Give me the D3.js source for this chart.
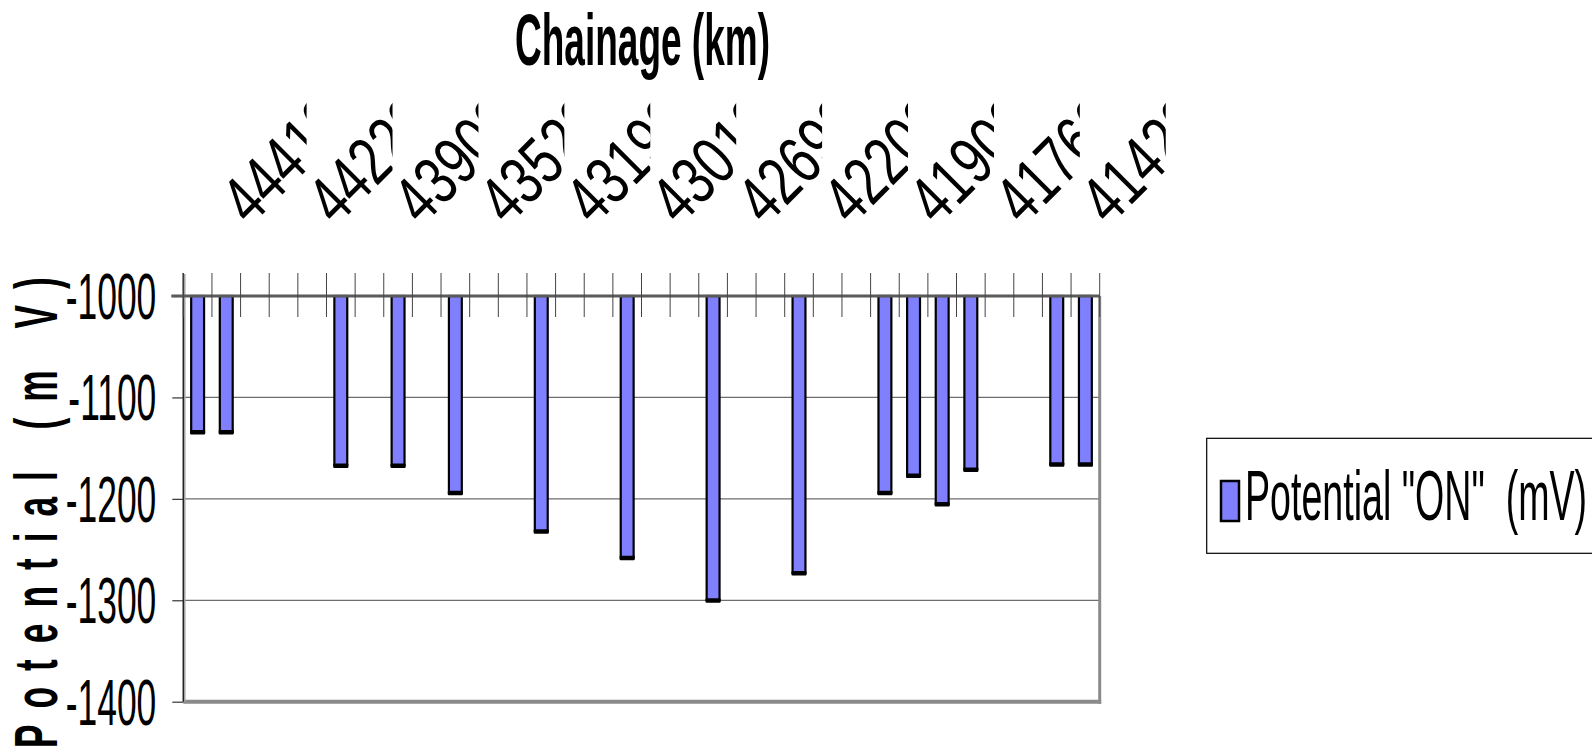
<!DOCTYPE html>
<html>
<head>
<meta charset="utf-8">
<script src="https://cdn.jsdelivr.net/npm/d3@7/dist/d3.min.js"></script>
<style>
  body { margin: 0; background: #fff; }
  text { font-family: "Liberation Sans", Arial, sans-serif; fill: #000; }
</style>
</head>
<body>
<svg id="chart" width="1592" height="749"></svg>
<script>
// one slot per chainage point, empty slots have no reading
var categories = d3.range(32);
var potentialOn = [-1134, -1134, null, null, null, -1167, null, -1167, null, -1194,
  null, null, -1232, null, null, -1258, null, null, -1300, null,
  null, -1273, null, null, -1194, -1177, -1205, -1171, null, null,
  -1166, -1166];
// only every third chainage gets a label
var labelIdx = [0, 3, 6, 9, 12, 15, 18, 21, 24, 27, 30];
var chainageLabels = ["44410", "44220", "43900", "43520", "43190", "43010",
  "42690", "42200", "41900", "41760", "41420"];
var yTicks = [-1000, -1100, -1200, -1300, -1400];
var seriesName = 'Potential "ON"  (mV)';

var svg = d3.select("#chart");
svg.append("rect").attr("width", 1592).attr("height", 749).attr("fill", "#fff");

var left = 183.3, right = 1099.7;

var x = d3.scaleBand()
  .domain(categories)
  .range([left, right])
  .paddingInner(0.55)
  .paddingOuter(0.275);

// tick positions sit on category boundaries
var xEdge = d3.scaleLinear().domain([0, categories.length]).range([left, right]);

var y = d3.scaleLinear().domain([-1000, -1400]).range([296, 701.7]);

// gridlines
svg.append("g")
  .selectAll("line")
  .data(yTicks.slice(1, -1))
  .join("line")
  .attr("x1", left).attr("x2", right)
  .attr("y1", d => y(d)).attr("y2", d => y(d))
  .attr("stroke", "#6e6e6e")
  .attr("stroke-width", 1.2);

// plot border right and bottom (grey)
svg.append("line")
  .attr("x1", right).attr("x2", right)
  .attr("y1", y(-1000)).attr("y2", y(-1400) + 2)
  .attr("stroke", "#8a8a8a").attr("stroke-width", 3);
svg.append("line")
  .attr("x1", left).attr("x2", right + 1.5)
  .attr("y1", y(-1400)).attr("y2", y(-1400))
  .attr("stroke", "#8a8a8a").attr("stroke-width", 4);

// value axis
var yAxis = d3.axisLeft(y)
  .tickValues(yTicks)
  .tickSizeInner(11)
  .tickSizeOuter(0)
  .tickFormat(d => String(d));

var gy = svg.append("g")
  .attr("transform", "translate(" + left + ",0)")
  .call(yAxis);
gy.select(".domain").remove();
gy.selectAll(".tick line").attr("stroke", "#333").attr("stroke-width", 1.2);
gy.selectAll(".tick text")
  .attr("x", null)
  .attr("dy", null)
  .attr("dominant-baseline", "central")
  .attr("font-size", 65)
  .attr("font-family", "Liberation Sans, Arial, sans-serif")
  .attr("transform", "translate(-27,0) scale(0.545,1)");

// axis line with a grey shadow
svg.append("line")
  .attr("x1", left + 1.5).attr("x2", left + 1.5)
  .attr("y1", 274).attr("y2", y(-1400))
  .attr("stroke", "#a8a8a8").attr("stroke-width", 1.5);
svg.append("line")
  .attr("x1", left).attr("x2", left)
  .attr("y1", 273).attr("y2", y(-1400))
  .attr("stroke", "#222").attr("stroke-width", 1.5);

// bars hanging from -1000
var bars = svg.append("g")
  .selectAll("g")
  .data(categories.filter(i => potentialOn[i] != null))
  .join("g");

bars.append("rect")
  .attr("x", i => x(i))
  .attr("y", y(-1000))
  .attr("width", x.bandwidth())
  .attr("height", i => y(potentialOn[i]) - y(-1000))
  .attr("fill", "#8080ff")
  .attr("stroke", "#000")
  .attr("stroke-width", 2.2);

bars.append("rect")
  .attr("x", i => x(i) - 1.1)
  .attr("y", i => y(potentialOn[i]) - 2)
  .attr("width", x.bandwidth() + 2.2)
  .attr("height", 4.5)
  .attr("rx", 1)
  .attr("fill", "#000");

// category axis line at -1000 with cross ticks
svg.append("line")
  .attr("x1", left - 12).attr("x2", right)
  .attr("y1", y(-1000)).attr("y2", y(-1000))
  .attr("stroke", "#5a5a5a").attr("stroke-width", 3);

svg.append("g")
  .selectAll("line")
  .data(d3.range(categories.length + 1))
  .join("line")
  .attr("x1", d => xEdge(d)).attr("x2", d => xEdge(d))
  .attr("y1", 273).attr("y2", 317)
  .attr("stroke", "#444")
  .attr("stroke-width", 1);

// rotated chainage labels, clipped to their slot
var defs = svg.append("defs");
labelIdx.forEach(function(ci, k) {
  var x0 = xEdge(ci);
  defs.append("clipPath").attr("id", "lab" + k)
    .append("rect")
    .attr("x", x0 + 37.4).attr("y", 0)
    .attr("width", xEdge(3) - xEdge(0)).attr("height", 262);

  svg.append("g")
    .attr("clip-path", "url(#lab" + k + ")")
    .append("text")
    .attr("transform", "translate(" + (x0 + 66.7) + ",227) rotate(-45) scale(0.75,1)")
    .attr("font-size", 68)
    .text(chainageLabels[k]);
});

// titles
svg.append("text")
  .attr("transform", "translate(642.5,65) scale(0.514,1)")
  .attr("text-anchor", "middle")
  .attr("font-size", 72)
  .attr("font-weight", "bold")
  .text("Chainage (km)");

svg.append("text")
  .attr("transform", "translate(57,748) rotate(-90) scale(0.57,1)")
  .attr("font-size", 62)
  .attr("font-weight", "bold")
  .attr("letter-spacing", 28)
  .style("white-space", "pre")
  .text("Potential (m V)");

// legend
var legend = svg.append("g");
legend.append("rect")
  .attr("x", 1206.7).attr("y", 438.3)
  .attr("width", 420).attr("height", 115)
  .attr("fill", "#fff")
  .attr("stroke", "#000")
  .attr("stroke-width", 1.2);
legend.append("rect")
  .attr("x", 1221).attr("y", 481)
  .attr("width", 18).attr("height", 40)
  .attr("fill", "#8080ff")
  .attr("stroke", "#000")
  .attr("stroke-width", 2.5);
legend.append("text")
  .attr("transform", "translate(1245,520) scale(0.537,1)")
  .attr("font-size", 70)
  .style("white-space", "pre")
  .text(seriesName);
</script>
</body>
</html>
